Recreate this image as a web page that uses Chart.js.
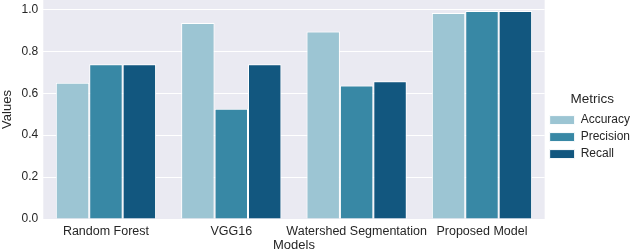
<!DOCTYPE html>
<html><head><meta charset="utf-8">
<script src="https://cdn.jsdelivr.net/npm/chart.js@4"></script>
<style>html,body{margin:0;padding:0;background:#fff}#wrap{width:640px;height:252px}</style>
</head><body><div id="wrap"><canvas id="c" width="640" height="252"></canvas></div>
<script>
const categories = ["Random Forest", "VGG16", "Watershed Segmentation", "Proposed Model"];
const accuracy = [0.65, 0.935, 0.895, 0.983];
const precision = [0.738, 0.526, 0.637, 0.992];
const recall = [0.738, 0.738, 0.657, 0.992];
const yTicks = [0.0, 0.2, 0.4, 0.6, 0.8, 1.0];
const seriesNames = ["Accuracy", "Precision", "Recall"];

const bgPlugin = {
  id: 'bg',
  beforeDraw(chart) {
    const {ctx, chartArea: a} = chart;
    ctx.save();
    ctx.fillStyle = '#EAEAF2';
    ctx.fillRect(a.left, a.top, a.right - a.left, a.bottom - a.top);
    ctx.restore();
  }
};
const txt = '#262626';
const F = 'Liberation Sans, Arial, sans-serif';
new Chart(document.getElementById('c'), {
  type: 'bar',
  data: {
    labels: categories,
    datasets: [
      {label: seriesNames[0], data: accuracy, backgroundColor: '#9CC5D3'},
      {label: seriesNames[1], data: precision, backgroundColor: '#3888A5'},
      {label: seriesNames[2], data: recall, backgroundColor: '#12577F'}
    ].map(d => Object.assign(d, {borderColor: '#ffffff', borderWidth: 1, categoryPercentage: 0.8, barPercentage: 1.0}))
  },
  options: {
    responsive: false,
    animation: false,
    devicePixelRatio: 1,
    layout: {padding: {top: 0, right: 0, bottom: 0, left: 0}},
    plugins: {
      tooltip: {enabled: false},
      legend: {
        position: 'right',
        align: 'center',
        title: {display: true, text: 'Metrics', color: txt, font: {family: F, size: 13.5}, padding: {top: 6, bottom: 0}},
        labels: {boxWidth: 25, boxHeight: 9, padding: 5, color: txt, font: {family: F, size: 12}}
      }
    },
    scales: {
      x: {
        grid: {display: false, drawTicks: false},
        border: {display: false},
        afterFit(s) { s.paddingLeft = 0; s.paddingRight = 0; s.height = 33; },
        ticks: {color: txt, font: {family: F, size: 12.5, lineHeight: 1}, padding: 6, maxRotation: 0, autoSkip: false},
        title: {display: true, text: 'Models', color: txt, font: {family: F, size: 13, lineHeight: 1}, padding: {top: 0, bottom: 0}}
      },
      y: {
        min: 0, max: 1.045,
        afterBuildTicks(scale) { scale.ticks = yTicks.map(v => ({value: v})); },
        afterFit(s) { s.paddingTop = 0; s.paddingBottom = 0; },
        grid: {color: '#ffffff', lineWidth: 1, drawTicks: false},
        border: {display: false},
        ticks: {color: txt, font: {family: F, size: 12}, padding: 5, callback: v => Number(v).toFixed(1)},
        title: {display: true, text: 'Values', color: txt, font: {family: F, size: 13}, padding: {top: 0, bottom: 1}}
      }
    }
  },
  plugins: [bgPlugin]
});
</script></body></html>
